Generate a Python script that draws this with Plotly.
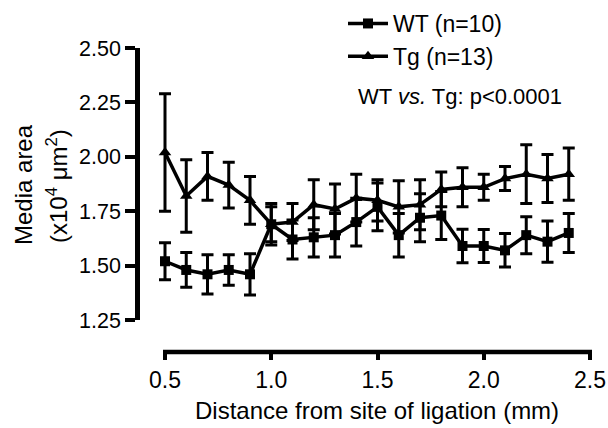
import plotly.graph_objects as go

W, H = 608, 428

distance = [0.5, 0.6, 0.7, 0.8, 0.9, 1.0, 1.1, 1.2, 1.3, 1.4,
            1.5, 1.6, 1.7, 1.8, 1.9, 2.0, 2.1, 2.2, 2.3, 2.4]
wt_mean = [1.52, 1.48, 1.46, 1.48, 1.46, 1.69, 1.62, 1.63, 1.64, 1.70,
           1.77, 1.64, 1.72, 1.73, 1.59, 1.59, 1.57, 1.64, 1.61, 1.65]
wt_sem = [0.085, 0.08, 0.09, 0.07, 0.095, 0.08, 0.09, 0.09, 0.10, 0.11,
          0.11, 0.10, 0.11, 0.11, 0.077, 0.076, 0.077, 0.085, 0.095, 0.09]
tg_mean = [2.02, 1.82, 1.91, 1.87, 1.80, 1.69, 1.70, 1.78, 1.76, 1.81,
           1.80, 1.77, 1.78, 1.85, 1.86, 1.86, 1.90, 1.92, 1.90, 1.92]
tg_sem = [0.27, 0.167, 0.11, 0.105, 0.11, 0.095, 0.085, 0.115, 0.115, 0.11,
          0.095, 0.12, 0.115, 0.08, 0.09, 0.06, 0.055, 0.135, 0.11, 0.12]

x_ticks = [0.5, 1.0, 1.5, 2.0, 2.5]
y_ticks = [1.25, 1.50, 1.75, 2.00, 2.25, 2.50]

FONT = "Liberation Sans, Arial, sans-serif"

# pixel geometry of the reference
X0_PX, X1_PX = 165, 590      # x = 0.5 .. 2.5
YAX_PX = 137                  # y axis line position
Y_TOP_PX, Y_BOT_PX = 48, 320  # y = 2.5 .. 1.25
XAX_PX = 352                  # x axis line position

def px_x(p):
    return p / W

def px_y(p):
    return 1 - p / H

xmin, xmax = x_ticks[0], x_ticks[-1]
ppu = (X1_PX - X0_PX) / (xmax - xmin)
x_range_left = xmin - (X0_PX - YAX_PX) / ppu

fig = go.Figure()
fig.add_trace(go.Scatter(
    x=distance, y=wt_mean, name="WT (n=10)", mode="lines+markers",
    line=dict(color="black", width=3.5),
    marker=dict(symbol="square", size=10, color="black"),
    error_y=dict(type="data", array=wt_sem, visible=True, color="black",
                 thickness=3, width=6),
    cliponaxis=False,
))
fig.add_trace(go.Scatter(
    x=distance, y=tg_mean, name="Tg (n=13)", mode="lines+markers",
    line=dict(color="black", width=3.5),
    marker=dict(symbol="triangle-up", size=11, color="black"),
    error_y=dict(type="data", array=tg_sem, visible=True, color="black",
                 thickness=3, width=6),
    cliponaxis=False,
))

fig.update_layout(
    width=W, height=H,
    margin=dict(l=0, r=0, t=0, b=0),
    paper_bgcolor="white", plot_bgcolor="white",
    font=dict(family=FONT, color="black", size=21),
    xaxis=dict(
        domain=[px_x(YAX_PX), px_x(X1_PX)], range=[x_range_left, xmax],
        anchor="free", position=px_y(XAX_PX),
        tickvals=x_ticks, tickformat=".1f",
        showline=False,
        ticks="outside", ticklen=7, tickwidth=4, tickcolor="black",
        showgrid=False, zeroline=False, automargin=False,
        tickfont=dict(size=23),
    ),
    yaxis=dict(
        domain=[px_y(Y_BOT_PX), px_y(Y_TOP_PX)], range=[y_ticks[0], y_ticks[-1]],
        anchor="free", position=px_x(YAX_PX),
        tickvals=y_ticks, tickformat=".2f",
        showline=True, linecolor="black", linewidth=4.5,
        ticks="outside", ticklen=10, tickwidth=4, tickcolor="black",
        showgrid=False, zeroline=False, automargin=False,
        tickfont=dict(size=21.5),
    ),
    showlegend=True,
    legend=dict(
        x=px_x(343), y=px_y(2), xanchor="left", yanchor="top",
        bgcolor="rgba(0,0,0,0)", font=dict(size=23),
        traceorder="grouped", tracegroupgap=4,
        itemwidth=40,
    ),
)

# x axis line, spanning 0.5 .. 2.5 only (paper coords so it is not clipped)
fig.add_shape(type="line", xref="paper", yref="paper",
              x0=px_x(X0_PX) - 2 / W, x1=px_x(X1_PX) + 2 / W,
              y0=px_y(XAX_PX), y1=px_y(XAX_PX),
              line=dict(color="black", width=4.5))

fig.add_annotation(
    text="Distance from site of ligation (mm)",
    x=px_x(377), y=px_y(410), xref="paper", yref="paper",
    showarrow=False, font=dict(size=24), xanchor="center", yanchor="middle",
)
fig.add_annotation(
    text="Media area",
    x=px_x(24), y=px_y(185), xref="paper", yref="paper",
    showarrow=False, font=dict(size=24), textangle=-90,
    xanchor="center", yanchor="middle",
)
fig.add_annotation(
    text="(x10<sup>4</sup> μm<sup>2</sup>)",
    x=px_x(57), y=px_y(186), xref="paper", yref="paper",
    showarrow=False, font=dict(size=24), textangle=-90,
    xanchor="center", yanchor="middle",
)
fig.add_annotation(
    text="WT <i>vs.</i> Tg: p&lt;0.0001",
    x=px_x(356), y=px_y(96), xref="paper", yref="paper",
    showarrow=False, font=dict(size=22), xanchor="left", yanchor="middle",
)

fig.write_html(
    "out.html",
    config={"displayModeBar": False},
    post_script="document.body.style.margin='0';document.body.style.overflow='hidden';",
)
